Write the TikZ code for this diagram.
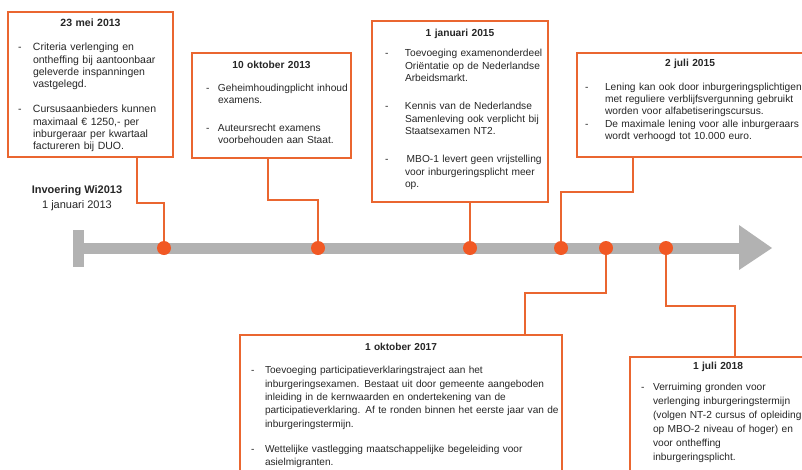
\documentclass[tikz,border=0pt]{standalone}
\usepackage{fontspec}
\setmainfont{Liberation Sans}
\usetikzlibrary{positioning}

\definecolor{tlorange}{RGB}{234,102,48}
\definecolor{tldotc}{RGB}{241,88,36}
\definecolor{tlgray}{RGB}{178,178,178}
\definecolor{tltext}{RGB}{38,38,38}

% dash width, title gap, item gap
\newlength\tldash \newlength\tltgap \newlength\tlisep
\newcommand{\tlset}[3]{\setlength\tldash{#1}\setlength\tltgap{#2}\setlength\tlisep{#3}}
\newcommand{\tltitle}[1]{{\centering\bfseries #1\par}\vspace{\tltgap}}
\newcommand{\tlitem}[1]{\noindent\makebox[\tldash][l]{-}\begin{tabular}[t]{@{}l@{}}#1\end{tabular}\par\vspace{\tlisep}}

\tikzset{
  evbox/.style={draw=tlorange, line width=2.4pt, inner sep=0pt, outer sep=0pt, anchor=north west},
  evtext/.style={inner sep=0pt, outer sep=0pt, align=left, text=tltext},
  tlline/.style={draw=tlorange, line width=2.2pt},
  tldot/.style={circle, fill=tldotc, minimum size=14pt, inner sep=0pt},
}

\begin{document}
\begin{tikzpicture}[x=1pt,y=-1pt]
\useasboundingbox (0,0) rectangle (802,469);
\clip (0,0) rectangle (802,469);

% time bar
\fill[tlgray] (73,230) rectangle (84,267);
\fill[tlgray] (84,242.5) rectangle (740,253.5);
\fill[tlgray] (739,225) -- (772,248) -- (739,270) -- cycle;

% dates on the bar
\node[tldot] (d1) at (164,248) {};
\node[tldot] (d2) at (318,248) {};
\node[tldot] (d3) at (470,248) {};
\node[tldot] (d4) at (561,248) {};
\node[tldot] (d5) at (606,248) {};
\node[tldot] (d6) at (666,248) {};

\node[font=\fontsize{11}{15}\selectfont, align=center, text=tltext] (intro) at (77,198) {\textbf{Invoering Wi2013}\\1 januari 2013};

% frames
\node[evbox, minimum width=165pt, minimum height=145pt] (ev1) at (8,12) {};
\node[evbox, minimum width=159pt, minimum height=105pt] (ev2) at (192,53) {};
\node[evbox, minimum width=176pt, minimum height=181pt] (ev3) at (372,21) {};
\node[evbox, minimum width=226pt, minimum height=104pt] (ev4) at (577,53) {};
\node[evbox, minimum width=322pt, minimum height=150pt] (ev5) at (240,335) {};
\node[evbox, minimum width=176pt, minimum height=130pt] (ev6) at (630,357) {};

% texts
\node[evtext, text width=145pt, font={\fontsize{10.5}{12.3}\selectfont\tlset{15pt}{11.7pt}{11.7pt}}, below=7.3pt of ev1.north] (ev1txt) {\tltitle{23 mei 2013}
\tlitem{Criteria verlenging en\\ontheffing bij aantoonbaar\\geleverde inspanningen\\vastgelegd.}
\tlitem{Cursusaanbieders kunnen\\maximaal € 1250,- per\\inburgeraar per kwartaal\\factureren bij DUO.}};

\node[evtext, text width=131pt, font={\fontsize{10.2}{12}\selectfont\tlset{12pt}{10.5pt}{15pt}}, below=8.3pt of ev2.north] (ev2txt) {\tltitle{10 oktober 2013}
\tlitem{Geheimhoudingplicht inhoud\\examens.}
\tlitem{Auteursrecht examens\\voorbehouden aan Staat.}};

\node[evtext, text width=150pt, font={\fontsize{10.2}{12.5}\selectfont\tlset{20pt}{7.5pt}{14.5pt}}, below=8.3pt of ev3.north] (ev3txt) {\tltitle{1 januari 2015}
\tlitem{Toevoeging examenonderdeel\\Oriëntatie op de Nederlandse\\Arbeidsmarkt.}
\tlitem{Kennis van de Nederlandse\\Samenleving ook verplicht bij\\Staatsexamen NT2.}
\tlitem{\,MBO-1 levert geen vrijstelling\\voor inburgeringsplicht meer\\op.}};

\node[evtext, text width=210pt, font={\fontsize{10.2}{12}\selectfont\tlset{20pt}{12pt}{0pt}}, below=6.3pt of ev4.north] (ev4txt) {\tltitle{2 juli 2015}
\tlitem{Lening kan ook door inburgeringsplichtigen\\met reguliere verblijfsvergunning gebruikt\\worden voor alfabetiseringscursus.}
\tlitem{De maximale lening voor alle inburgeraars\\wordt verhoogd tot 10.000 euro.}};

\node[evtext, text width=300pt, font={\fontsize{10.1}{13.3}\selectfont\tlset{14pt}{9.7pt}{10.7pt}}, below=8.5pt of ev5.north] (ev5txt) {\tltitle{1 oktober 2017}
\tlitem{Toevoeging participatieverklaringstraject aan het\\inburgeringsexamen. Bestaat uit door gemeente aangeboden\\inleiding in de kernwaarden en ondertekening van de\\participatieverklaring. Af te ronden binnen het eerste jaar van de\\inburgeringstermijn.}
\tlitem{Wettelijke vastlegging maatschappelijke begeleiding voor\\asielmigranten.}};

\node[evtext, text width=154pt, font={\fontsize{10.2}{14}\selectfont\tlset{12pt}{7pt}{0pt}}, below=5.3pt of ev6.north] (ev6txt) {\tltitle{1 juli 2018}
\tlitem{Verruiming gronden voor\\verlenging inburgeringstermijn\\(volgen NT-2 cursus of opleiding\\op MBO-2 niveau of hoger) en\\voor ontheffing\\inburgeringsplicht.}};

% connectors
\coordinate (k1) at (137,203);
\coordinate (k2) at (268,200);
\coordinate (k4) at (633,192);
\coordinate (k5) at (525,293);
\coordinate (k6) at (735,306);
\draw[tlline] (ev1.south -| k1) -- (k1) -| (d1.north);
\draw[tlline] (ev2.south -| k2) -- (k2) -| (d2.north);
\draw[tlline] (ev3.south -| d3) -- (d3.north);
\draw[tlline] (ev4.south -| k4) -- (k4) -| (d4.north);
\draw[tlline] (d5.south) |- (k5) -- (ev5.north -| k5);
\draw[tlline] (d6.south) |- (k6) -- (ev6.north -| k6);

\end{tikzpicture}
\end{document}
